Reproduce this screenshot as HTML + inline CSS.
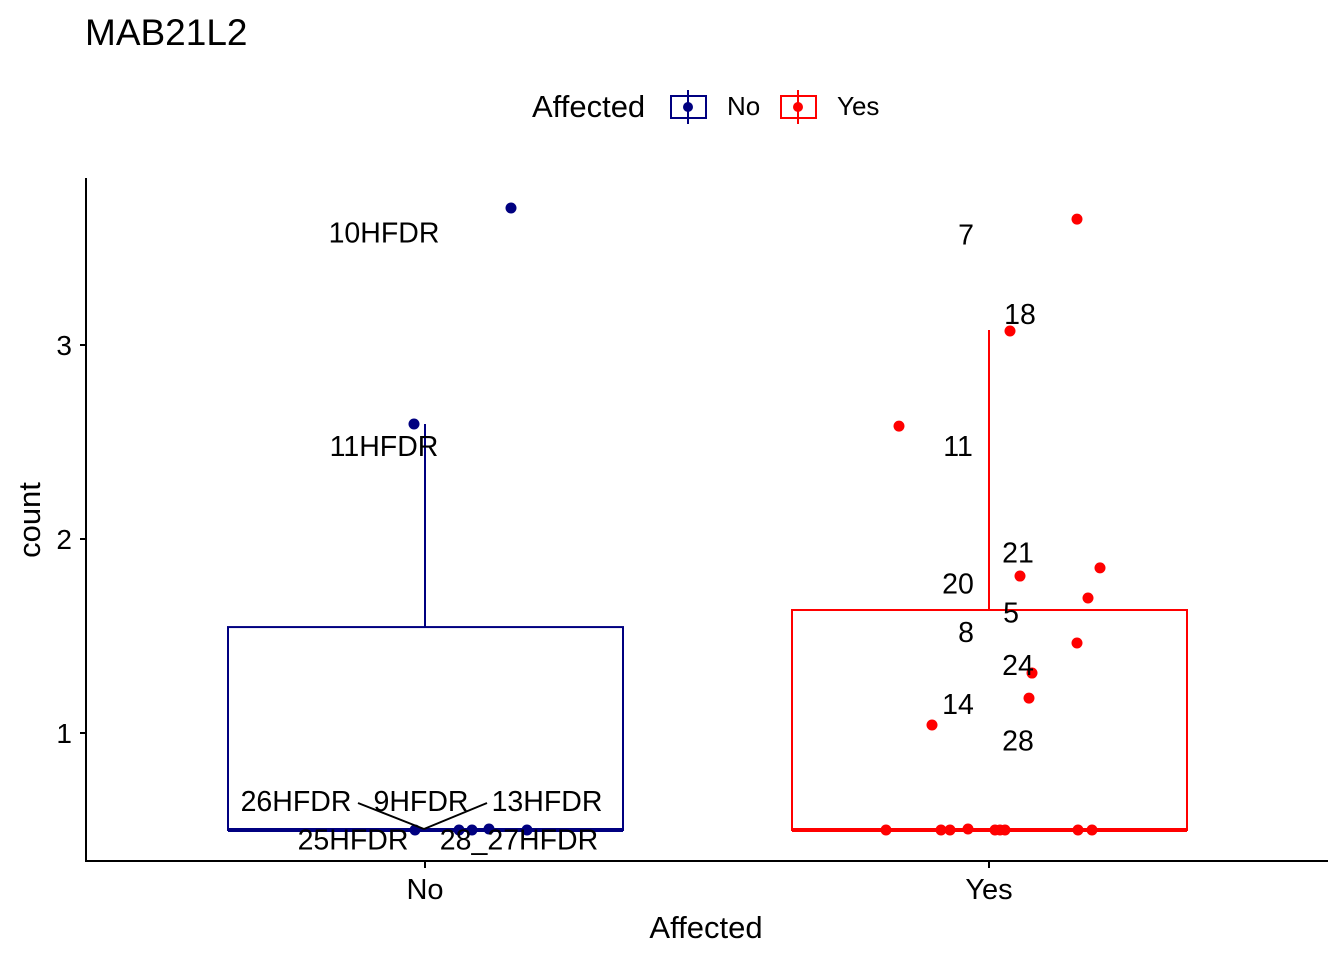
<!DOCTYPE html>
<html><head><meta charset="utf-8"><style>body{margin:0;background:#fff}svg{font-family:"Liberation Sans",Arial,sans-serif}</style></head>
<body>
<svg id="c" width="1344" height="960">
<text x="85" y="45" font-size="37">MAB21L2</text>
<g>
<text x="532" y="117" font-size="31">Affected</text>
<g>
<rect x="671" y="96" width="35" height="22" fill="none" stroke="#000080" stroke-width="2"/>
<line x1="688" y1="90" x2="688" y2="124" stroke="#000080" stroke-width="2"/>
<circle cx="688" cy="107" r="5" fill="#000080"/>
<text x="727" y="115" font-size="26">No</text></g>
<g>
<rect x="781" y="96" width="35" height="22" fill="none" stroke="#ff0000" stroke-width="2"/>
<line x1="798" y1="90" x2="798" y2="124" stroke="#ff0000" stroke-width="2"/>
<circle cx="798" cy="107" r="5" fill="#ff0000"/>
<text x="837" y="115" font-size="26">Yes</text></g>
</g>
<g id="plot"></g>
<line x1="86" y1="178" x2="86" y2="862" stroke="#000" stroke-width="2"/>
<line x1="85" y1="861" x2="1328" y2="861" stroke="#000" stroke-width="2"/>
<text x="706" y="938" font-size="31" text-anchor="middle">Affected</text>
<text transform="translate(40,520) rotate(-90)" font-size="31" text-anchor="middle">count</text>
</svg>
<script>
const categories=["No","Yes"];
const yTicks=[1,2,3];
const boxLower=[0.5,0.5];
const boxMedian=[0.5,0.5];
const boxUpper=[1.546,1.634];
const whiskerHi=[2.593,3.077];
const colors=["#000080","#ff0000"];
const ptX_No=[511,414,415,459,472,489,527];
const ptY_No=[3.706,2.593,0.5,0.5,0.5,0.505,0.5];
const ptX_Yes=[1077,1010,899,1100,1020,1088,1077,1032,1029,932,886,941,950,968,995,1000,1005,1078,1092];
const ptY_Yes=[3.649,3.072,2.582,1.851,1.809,1.696,1.464,1.309,1.180,1.041,0.5,0.5,0.5,0.505,0.5,0.5,0.5,0.5,0.5];
const labText=["10HFDR","11HFDR","26HFDR","9HFDR","13HFDR","25HFDR","28_27HFDR","7","18","11","21","20","5","8","24","14","28"];
const labX=[384,384,296,421,547,353,519,966,1020,958,1018,958,1011,966,1018,958,1018];
const labY=[3.57,2.47,0.64,0.64,0.64,0.44,0.44,3.56,3.15,2.47,1.92,1.76,1.61,1.51,1.34,1.14,0.95];
const Y=v=>733-(v-1)*194;
const X=i=>425+i*564;
const NS="http://www.w3.org/2000/svg";
const g=document.getElementById('plot');
function mk(t,a){const e=document.createElementNS(NS,t);for(const k in a)e.setAttribute(k,a[k]);g.appendChild(e);return e;}
yTicks.forEach(v=>{
 const t=mk('line',{x1:80,x2:86,y1:Y(v),y2:Y(v),stroke:'#000','stroke-width':2});
 
 
 const l=mk('text',{x:72,y:Y(v)+10,'font-size':28,'text-anchor':'end'});l.textContent=v;
 
 
});
categories.forEach((c,i)=>{
 const t=mk('line',{x1:X(i),x2:X(i),y1:861,y2:868,stroke:'#000','stroke-width':2});
 
 
 const l=mk('text',{x:X(i),y:899,'font-size':29,'text-anchor':'middle'});l.textContent=c;
 
 
 const w=mk('line',{x1:X(i),x2:X(i),y1:Y(whiskerHi[i]),y2:Y(boxUpper[i]),stroke:colors[i],'stroke-width':2});
 
 
 const r=mk('rect',{x:X(i)-197,y:Y(boxUpper[i]),width:395,height:Y(boxLower[i])-Y(boxUpper[i]),fill:'none',stroke:colors[i],'stroke-width':2});
 
 
 const m=mk('line',{x1:X(i)-197,x2:X(i)+198,y1:Y(boxMedian[i]),y2:Y(boxMedian[i]),stroke:colors[i],'stroke-width':4});
 
 
});
[[ptX_No,ptY_No,0],[ptX_Yes,ptY_Yes,1]].forEach(([xs,ys,i])=>{
 xs.forEach((x,k)=>{const p=mk('circle',{cx:x,cy:Y(ys[k]),r:5.5,fill:colors[i]});
 
 });
});
[[358,803],[487,803]].forEach(([x,y])=>{const s=mk('line',{x1:x,y1:y,x2:424,y2:829,stroke:'#000','stroke-width':2});
 
 });
labText.forEach((t,k)=>{
 const l=mk('text',{x:labX[k],y:Y(labY[k])+8,'font-size':28.5,'text-anchor':'middle'});l.textContent=t;
 
 
});
</script>
</body></html>
